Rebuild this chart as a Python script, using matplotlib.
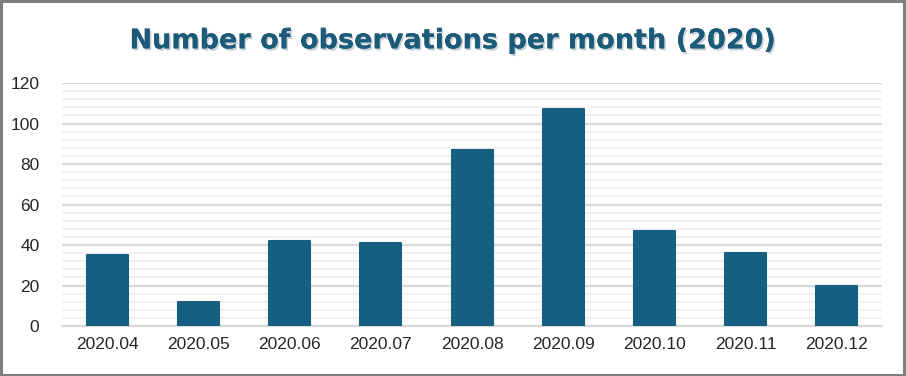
import matplotlib.pyplot as plt
import matplotlib.patheffects as pe
from matplotlib.ticker import MultipleLocator

months = ["2020.04", "2020.05", "2020.06", "2020.07", "2020.08",
          "2020.09", "2020.10", "2020.11", "2020.12"]
counts = [35, 12, 42, 41, 87, 107, 47, 36, 20]

bar_color = "#165f80"

fig = plt.figure(figsize=(9.06, 3.76), dpi=100)
ax = fig.add_axes([0.068, 0.133, 0.906, 0.646])

bars = ax.bar(months, counts, width=0.45, color=bar_color,
              edgecolor=bar_color, linewidth=1.5, zorder=3)
for b in bars:
    b.set_joinstyle("round")

ax.set_ylim(0, 120)
ax.set_xlim(-0.5, len(months) - 0.5)
ax.yaxis.set_major_locator(MultipleLocator(20))
ax.yaxis.set_minor_locator(MultipleLocator(4))
ax.grid(axis="y", which="major", color="#d9d9d9", linewidth=1.6, zorder=0)
ax.grid(axis="y", which="minor", color="#efefef", linewidth=1.2, zorder=0)
ax.set_axisbelow(True)

for s in ["top", "right", "left"]:
    ax.spines[s].set_visible(False)
ax.spines["bottom"].set_color("#d9d9d9")
ax.spines["bottom"].set_linewidth(1.6)

ax.tick_params(axis="both", which="both", length=0, labelsize=12.5,
               labelcolor="#262626")
ax.tick_params(axis="y", pad=16)
ax.tick_params(axis="x", pad=8)
for lab in ax.get_xticklabels() + ax.get_yticklabels():
    lab.set_fontfamily("Liberation Sans")

fig.text(0.5, 0.89, "Number of observations per month (2020)",
         ha="center", va="center", fontsize=19.5, fontweight="bold",
         color="#1b5a78", fontfamily="DejaVu Sans",
         path_effects=[pe.withSimplePatchShadow(offset=(1.2, -1.5),
                                                shadow_rgbFace="#8a9aa6",
                                                alpha=0.45),
                       pe.Normal()])

# outer frame
fig.patches.append(plt.Rectangle((0.001, 0.002), 0.997, 0.995,
                                 transform=fig.transFigure, fill=False,
                                 edgecolor="#7f7f7f", linewidth=2.2))

fig.savefig("out.png", dpi=100)
